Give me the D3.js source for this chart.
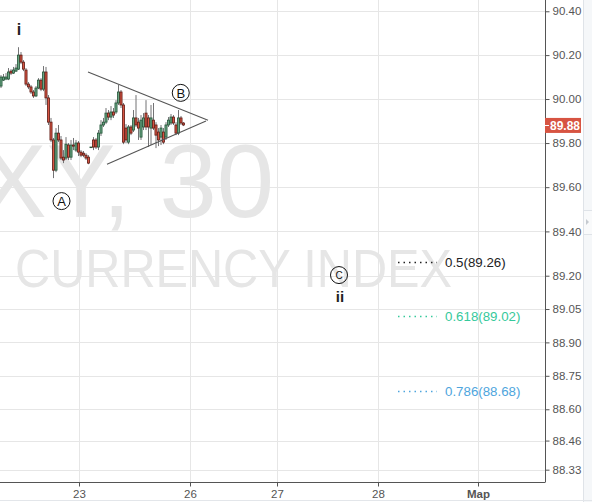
<!DOCTYPE html>
<html><head><meta charset="utf-8">
<script src="https://cdn.jsdelivr.net/npm/d3@7/dist/d3.min.js"></script>
<style>
html,body{margin:0;padding:0;background:#fff;}
svg{display:block;font-family:"Liberation Sans",Arial,sans-serif;}
</style></head>
<body>
<svg id="c" width="592" height="502"></svg>
<script>
// ---- DATA ----
// 30-minute candles: [open, high, low, close]
const candles = [
[90.059,90.109,90.050,90.100],[90.086,90.114,90.082,90.100],[90.091,90.118,90.086,90.100],[90.091,90.141,90.086,90.123],
[90.127,90.136,90.109,90.118],[90.118,90.146,90.114,90.132],[90.127,90.159,90.123,90.141],[90.136,90.236,90.132,90.200],
[90.200,90.214,90.159,90.168],[90.168,90.177,90.127,90.136],[90.132,90.141,90.059,90.068],[90.068,90.077,90.045,90.055],
[90.055,90.064,90.023,90.032],[90.032,90.041,90.005,90.014],[90.014,90.059,90.009,90.050],[90.050,90.095,90.045,90.086],
[90.086,90.095,90.036,90.045],[90.045,90.150,90.036,90.123],[90.123,90.146,89.973,90.005],[90.005,90.018,89.882,89.895],
[89.895,89.914,89.804,89.814],[89.814,89.823,89.641,89.677],[89.677,89.868,89.668,89.845],[89.845,89.882,89.804,89.814],
[89.814,89.832,89.723,89.732],[89.736,89.768,89.709,89.723],[89.732,89.827,89.723,89.795],[89.791,89.800,89.723,89.736],
[89.736,89.814,89.723,89.791],[89.791,89.823,89.768,89.786],[89.768,89.814,89.759,89.800],[89.800,89.809,89.741,89.759],
[89.759,89.768,89.736,89.745],[89.754,89.764,89.736,89.745],[89.745,89.754,89.723,89.732],[89.736,89.745,89.704,89.709],
[89.782,89.782,89.777,89.782],[89.814,89.827,89.768,89.782],[89.814,89.823,89.773,89.782],[89.782,89.859,89.768,89.845],
[89.845,89.904,89.832,89.882],[89.882,89.914,89.873,89.895],[89.895,89.959,89.886,89.936],[89.936,89.950,89.904,89.918],
[89.918,89.968,89.904,89.941],[89.941,89.959,89.914,89.927],[89.941,89.995,89.932,89.982],[89.982,90.064,89.973,90.032],
[90.032,90.041,89.959,89.973],[89.973,89.982,89.795,89.804],[89.868,89.886,89.800,89.814],[89.804,89.882,89.795,89.873],
[89.873,89.882,89.836,89.845],[89.859,89.950,89.850,89.914],[89.914,90.018,89.873,89.882],[89.895,89.914,89.814,89.868],
[89.827,89.927,89.814,89.904],[89.873,89.936,89.859,89.914],[89.936,89.995,89.859,89.873],[89.914,89.927,89.782,89.873],
[89.868,89.973,89.791,89.914],[89.904,89.982,89.859,89.868],[89.882,89.895,89.777,89.836],[89.850,89.868,89.786,89.814],
[89.827,89.882,89.791,89.868],[89.850,89.868,89.795,89.804],[89.827,89.895,89.814,89.882],[89.882,89.918,89.873,89.904],
[89.891,89.932,89.882,89.918],[89.918,89.927,89.882,89.891],[89.882,89.895,89.836,89.845],[89.845,89.950,89.836,89.914],
[89.914,89.923,89.882,89.891],[89.891,89.895,89.877,89.882]
];
const lastPrice = 89.88;
const yTicks = [90.40, 90.20, 90.00, 89.80, 89.60, 89.40, 89.20, 89.05, 88.90, 88.75, 88.60, 88.46, 88.33];
const xTickBars = [31.2, 75.6, 110.4, 150.8, 190.8];   // bar index where each day starts
const xTickLabels = ["23", "26", "27", "28", "Map"];
// triangle trendlines: [[bar, price],[bar, price]]
const trendlines = [
  [[34.8, 90.123], [82.8, 89.904]],
  [[42.4, 89.704], [82.0, 89.900]]
];
// wave labels: [bar, price, text, circled]
const waveLabels = [
  [7.2, 90.291, "i", false],
  [24.2, 89.537, "A", true],
  [71.9, 90.028, "B", true],
  [135.2, 89.203, "C", true]
];
const subLabel = [135.6, 89.203, "ii"];
// fibonacci retracement levels
const fibRatios = ["0.5", "0.618", "0.786"];
const fibPrices = [89.26, 89.02, 88.68];
const fibColors = ["#222222", "#35c99b", "#4ea5dd"];
const fibStartBar = 158.8, fibEndBar = 174.4;

// ---- LAYOUT ----
const W = 592, H = 502, plotR = 545, plotB = 482;
const svg = d3.select("#c");
const x = d3.scaleLinear().domain([0, 100]).range([1, 251]);
const y = d3.scaleLog().domain([88.275, 90.4515]).range([plotB, 0]);

// watermark
svg.append("text").attr("x", 274).attr("y", 217).attr("text-anchor", "end")
  .attr("font-size", 103).attr("fill", "#e6e6e6").text("DXY, 30");
svg.append("text").attr("x", 15).attr("y", 287).attr("textLength", 437).attr("lengthAdjust", "spacingAndGlyphs")
  .attr("font-size", 54).attr("fill", "#e6e6e6").text("CURRENCY INDEX");

// grid
const grid = svg.append("g").attr("stroke", "#e6e6e6").attr("stroke-width", 1);
yTicks.forEach(t => grid.append("line").attr("x1", 0).attr("x2", plotR)
  .attr("y1", Math.round(y(t)) + 0.5).attr("y2", Math.round(y(t)) + 0.5));
xTickBars.forEach(t => grid.append("line").attr("y1", 0).attr("y2", plotB)
  .attr("x1", Math.round(x(t)) + 0.5).attr("x2", Math.round(x(t)) + 0.5));

// clip
svg.append("clipPath").attr("id", "clip").append("rect").attr("x", 0).attr("y", 0).attr("width", plotR).attr("height", plotB);
const plot = svg.append("g").attr("clip-path", "url(#clip)");

// candles
const cg = plot.append("g");
candles.forEach((d, i) => {
  const [o, h, l, c] = d;
  const cx = x(i);
  cg.append("line").attr("x1", cx).attr("x2", cx).attr("y1", y(h)).attr("y2", y(l))
    .attr("stroke", "#737375").attr("stroke-width", 1);
});
candles.forEach((d, i) => {
  const [o, h, l, c] = d;
  const up = c >= o;
  const cx = x(i);
  const top = y(Math.max(o, c)), bot = y(Math.min(o, c));
  cg.append("rect").attr("x", cx - 1.05).attr("width", 2.1)
    .attr("y", top).attr("height", Math.max(0.6, bot - top))
    .attr("fill", up ? "#6ba583" : "#d75442")
    .attr("stroke", up ? "#225437" : "#5b1a13").attr("stroke-width", 0.8);
});

// trendlines
trendlines.forEach(t => plot.append("line")
  .attr("x1", x(t[0][0])).attr("y1", y(t[0][1])).attr("x2", x(t[1][0])).attr("y2", y(t[1][1]))
  .attr("stroke", "#555").attr("stroke-width", 1.1));

// wave labels
waveLabels.forEach(([b, p, t, circ]) => {
  const gx = x(b), gy = y(p);
  if (circ) {
    plot.append("circle").attr("cx", gx).attr("cy", gy).attr("r", 8.5)
      .attr("fill", "none").attr("stroke", "#111").attr("stroke-width", 1);
    plot.append("text").attr("x", gx).attr("y", gy).attr("dy", "0.36em").attr("text-anchor", "middle")
      .attr("font-size", t === "C" ? 10 : 13).attr("fill", "#111").text(t);
  } else {
    plot.append("text").attr("x", gx).attr("y", gy).attr("text-anchor", "middle")
      .attr("font-size", 16).attr("font-weight", "bold").attr("fill", "#222").text(t);
  }
});
plot.append("text").attr("x", x(subLabel[0])).attr("y", y(subLabel[1]) + 27).attr("text-anchor", "middle")
  .attr("font-size", 15).attr("font-weight", "bold").attr("fill", "#222").text(subLabel[2]);

// fib levels
fibPrices.forEach((p, i) => {
  const yy = Math.round(y(p)) + 0.5;
  plot.append("line").attr("x1", x(fibStartBar)).attr("x2", x(fibEndBar)).attr("y1", yy).attr("y2", yy)
    .attr("stroke", fibColors[i]).attr("stroke-width", 1.5).attr("stroke-dasharray", "1.5,4");
  plot.append("text").attr("x", x(fibEndBar) + 8).attr("y", yy).attr("dy", "0.35em")
    .attr("font-size", 13.3).attr("fill", fibColors[i]).text(fibRatios[i] + "(" + p.toFixed(2) + ")");
});

// y axis (right)
const yAxis = svg.append("g").attr("transform", `translate(${plotR + 0.5},0)`)
  .call(d3.axisRight(y).tickValues(yTicks).tickFormat(d3.format(".2f")).tickSize(4).tickPadding(3));
yAxis.select(".domain").attr("stroke", "#555").attr("d", `M0,0V${plotB}`);
yAxis.selectAll(".tick line").attr("stroke", "#555");
yAxis.selectAll(".tick text").attr("font-size", 11.5).attr("fill", "#555").attr("font-family", "Liberation Sans, Arial, sans-serif");

// x axis
const xAxis = svg.append("g").attr("transform", `translate(0,${plotB + 0.5})`)
  .call(d3.axisBottom(x).tickValues(xTickBars).tickFormat((d, i) => xTickLabels[i]).tickSize(4).tickPadding(3));
xAxis.select(".domain").attr("stroke", "#555").attr("d", `M0,0H${plotR + 0.5}`);
xAxis.selectAll(".tick line").attr("stroke", "#555");
xAxis.selectAll(".tick text").attr("font-size", 11.5).attr("fill", "#555").attr("font-family", "Liberation Sans, Arial, sans-serif")
  .attr("font-weight", (d, i) => xTickLabels[i] === "Map" ? "bold" : null);

// last price label
const ly = y(lastPrice);
svg.append("rect").attr("x", plotR).attr("y", ly - 7.5).attr("width", 36).attr("height", 15).attr("fill", "#d75442");
svg.append("line").attr("x1", plotR).attr("x2", plotR + 4).attr("y1", Math.round(ly) + 0.5).attr("y2", Math.round(ly) + 0.5)
  .attr("stroke", "#fff");
svg.append("text").attr("x", plotR + 5).attr("y", ly).attr("dy", "0.36em").attr("font-size", 12)
  .attr("font-weight", "bold").attr("fill", "#fff").text(lastPrice.toFixed(2));

// right side panel strip
svg.append("rect").attr("x", 583).attr("y", 0).attr("width", 9).attr("height", H).attr("fill", "#f5f7f9");
svg.append("line").attr("x1", 583.5).attr("x2", 583.5).attr("y1", 0).attr("y2", H).attr("stroke", "#dfe3e8");
svg.append("rect").attr("x", 583.5).attr("y", 210.5).attr("width", 9).attr("height", 24).attr("fill", "#f9fafb").attr("stroke", "#dfe3e8");
svg.append("path").attr("d", "M586,219L589,222L586,225Z").attr("fill", "#c5cad0");
svg.append("line").attr("x1", 0).attr("x2", W).attr("y1", 500.5).attr("y2", 500.5).attr("stroke", "#e3e6ea");
</script>
</body></html>
